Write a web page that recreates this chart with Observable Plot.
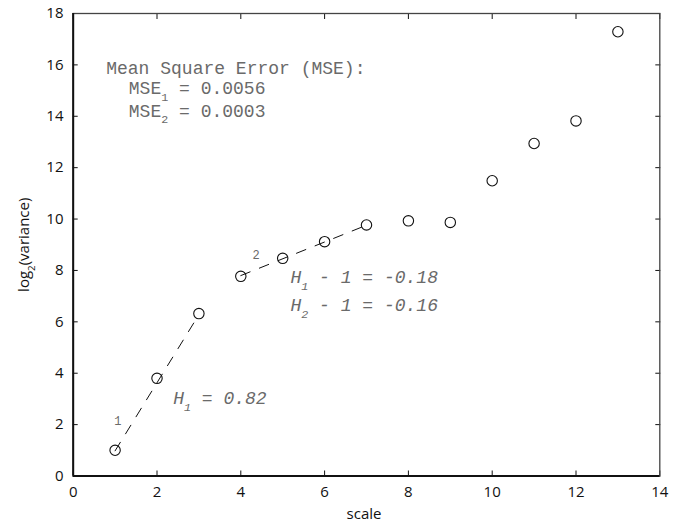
<!DOCTYPE html>
<html><head><meta charset="utf-8">
<script src="https://cdn.jsdelivr.net/npm/d3@7"></script>
<script src="https://cdn.jsdelivr.net/npm/@observablehq/plot@0.6"></script>
<style>body{margin:0;background:#fff}</style>
</head><body><div id="chart"></div>
<script>
// ---- data ----
const scales = [1, 2, 3, 4, 5, 6, 7, 8, 9, 10, 11, 12, 13];
const log2Variance = [1.0, 3.8, 6.32, 7.77, 8.47, 9.12, 9.77, 9.93, 9.87, 11.49, 12.94, 13.82, 17.29];
const fit1X = [1, 3];
const fit1Y = [0.98, 6.28];
const fit2X = [4, 7];
const fit2Y = [7.8, 9.76];
const xTicks = [0, 2, 4, 6, 8, 10, 12, 14];
const yTicks = [0, 2, 4, 6, 8, 10, 12, 14, 16, 18];
const segLabels = ["1", "2"];
const segLabelX = [1.065, 4.367];
const segLabelY = [2.12, 8.61];
const mseLines = ["Mean Square Error (MSE):", "MSE_1 = 0.0056", "MSE_2 = 0.0003"];
const mseX = [0.788, 1.327, 1.327];
const mseY = [15.66, 14.88, 13.99];
const hLines = ["H_1 = 0.82", "H_1 - 1 = -0.18", "H_2 - 1 = -0.16"];
const hX = [2.387, 5.186, 5.186];
const hY = [2.807, 7.496, 6.435];
const xLabel = "scale";
const yLabel = "log_2(variance)";

// ---- tables ----
const points = scales.map((s, i) => ({x: s, y: log2Variance[i]}));
const fit1 = fit1X.map((x, i) => ({x, y: fit1Y[i]}));
const fit2 = fit2X.map((x, i) => ({x, y: fit2Y[i]}));
const segs = segLabels.map((t, i) => ({t, x: segLabelX[i], y: segLabelY[i]}));
const mse = mseLines.map((t, i) => ({t, x: mseX[i], y: mseY[i]}));
const hs = hLines.map((t, i) => ({t, x: hX[i], y: hY[i]}));

const mono = "'Liberation Mono', 'Courier New', monospace";

const plot = Plot.plot({
  width: 679,
  height: 522,
  marginLeft: 72.7,
  marginRight: 19.7,
  marginTop: 13,
  marginBottom: 46.5,
  x: {domain: [0, 14]},
  y: {domain: [0, 18]},
  style: {fontFamily: "'Open Sans', sans-serif", fontSize: "15px", color: "#111", background: "#fff"},
  marks: [
    Plot.axisX(xTicks, {anchor: "bottom", tickSize: -5, tickPadding: 15.7, label: null, fontSize: 15}),
    Plot.axisX(xTicks, {anchor: "top", tickSize: -5, tickFormat: () => "", label: null}),
    Plot.axisY(yTicks, {anchor: "left", tickSize: -5, tickPadding: 14.7, label: null, fontSize: 15}),
    Plot.axisY(yTicks, {anchor: "right", tickSize: -5, tickFormat: () => "", label: null}),
    Plot.frame({stroke: "#444", strokeWidth: 1.3}),
    Plot.ruleX([0], {stroke: "#111", strokeWidth: 2}),
    Plot.ruleY([0], {stroke: "#111", strokeWidth: 2}),
    Plot.line(fit1, {x: "x", y: "y", stroke: "#111", strokeWidth: 1, strokeDasharray: "10,10"}),
    Plot.line(fit2, {x: "x", y: "y", stroke: "#111", strokeWidth: 1, strokeDasharray: "10,10"}),
    Plot.dot(points, {x: "x", y: "y", r: 5.2, stroke: "#111", strokeWidth: 1.1, fill: "none"}),
    Plot.text(segs, {x: "x", y: "y", text: "t", fontFamily: mono, fontSize: 12, fill: "#6a6a6a"}),
    Plot.text(mse, {x: "x", y: "y", text: "t", fontFamily: mono, fontSize: 18, fill: "#6a6a6a", textAnchor: "start", lineAnchor: "bottom"}),
    Plot.text(hs, {x: "x", y: "y", text: "t", fontFamily: mono, fontSize: 18, fontStyle: "italic", fill: "#6a6a6a", textAnchor: "start", lineAnchor: "bottom"}),
    Plot.text([xLabel], {x: 6.94, y: -1.69, text: d => d, fontSize: 15, lineAnchor: "bottom", fill: "#111"}),
    Plot.text([yLabel], {x: -1.162, y: 9, text: d => d, fontSize: 15, rotate: -90, fill: "#111"})
  ]
});

document.getElementById("chart").appendChild(plot);

// subscripts: "_d" -> lowered, smaller digit
plot.querySelectorAll("text, tspan").forEach(el => {
  if (el.childNodes.length !== 1 || el.firstChild.nodeType !== 3) return;
  const s = el.firstChild.nodeValue;
  const m = s.match(/^(.*?)_(\d)(.*)$/);
  if (!m) return;
  const fs = parseFloat(getComputedStyle(el).fontSize) || 15;
  const shift = 0.38 * fs;
  el.textContent = "";
  el.appendChild(document.createTextNode(m[1]));
  const sub = document.createElementNS("http://www.w3.org/2000/svg", "tspan");
  sub.setAttribute("dy", shift);
  sub.setAttribute("font-size", (0.65 * fs) + "px");
  sub.textContent = m[2];
  el.appendChild(sub);
  const rest = document.createElementNS("http://www.w3.org/2000/svg", "tspan");
  rest.setAttribute("dy", -shift);
  rest.textContent = m[3];
  el.appendChild(rest);
});
</script>
</body></html>
